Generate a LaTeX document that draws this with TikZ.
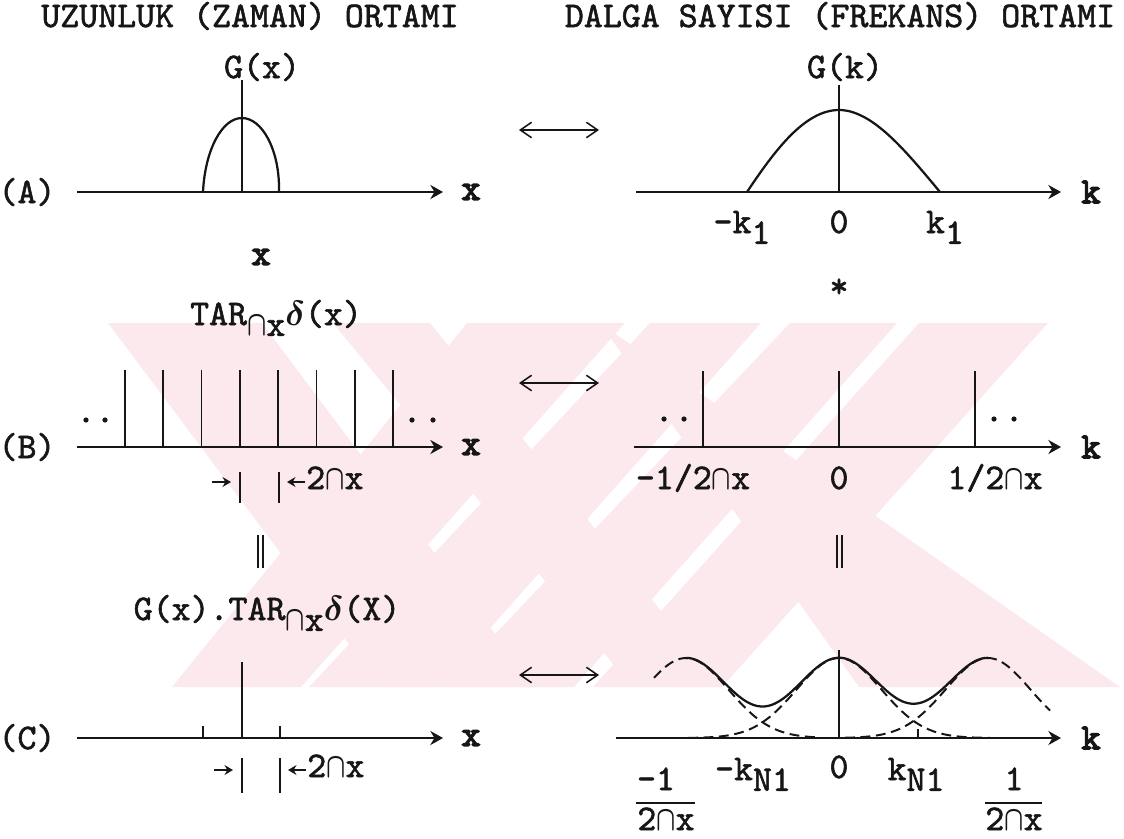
\documentclass[tikz,border=0pt]{standalone}
\usepackage{amsmath}
\usepackage{graphicx}
\usepackage{fontspec}
\newfontfamily\tw{lmmono10-regular.otf}[FakeBold=1.6]
\newfontfamily\twx{lmmono10-regular.otf}[FakeBold=4]
\usetikzlibrary{arrows.meta,positioning}
\definecolor{tezpink}{RGB}{252,233,237}
\definecolor{tezink}{RGB}{22,22,22}
\newcommand{\dn}[1]{\raisebox{-0.3em}{#1}}
\newcommand{\cp}{\scalebox{0.72}[1]{$\boldsymbol{\cap}$}}
\newcommand{\dl}{\ensuremath{\boldsymbol{\delta}}}

\begin{document}
\begin{tikzpicture}[
    x=0.025cm, y=-0.025cm,
    font=\tw\bfseries\fontsize{25.7}{30}\selectfont,
    lbl/.style={inner sep=0pt, text=tezink},
    axlbl/.style={lbl, font=\twx\bfseries\fontsize{25.7}{30}\selectfont},
    axis/.style={line width=1.8pt, draw=tezink, -{Stealth[length=9pt,width=10pt]}},
    tooth/.style={line width=1.2pt, draw=tezink},
    curve/.style={line width=1.6pt, draw=tezink},
    dcurve/.style={line width=1.4pt, draw=tezink, dash pattern=on 7pt off 4pt},
    pair/.style={line width=1.1pt, draw=tezink, {Straight Barb[length=8pt,width=11pt]}-{Straight Barb[length=8pt,width=11pt]}},
    mini/.style={line width=1.5pt, draw=tezink, -{Stealth[length=6pt,width=7pt]}},
    wm/.style={fill=tezpink, draw=none}
  ]
    \useasboundingbox (0,0) rectangle (1124,838);

    \fill[wm] (108,323) -- (262,323) -- (535,687) -- (381,687) -- cycle;
    \fill[wm] (333,323) -- (430,323) -- (722,687) -- (632,687) -- cycle;
    \fill[wm] (467,323) -- (625,323) -- (301,687) -- (172,687) -- cycle;
    \fill[wm] (650,323) -- (761,323) -- (438,687) -- (309,687) -- cycle;
    \fill[wm] (790,323) -- (897,323) -- (574,687) -- (445,687) -- cycle;
    \fill[wm] (919,323) -- (1048,323) -- (722,687) -- (593,687) -- cycle;
    \fill[wm] (600,323) -- (1120,687) -- (859,687) -- cycle;

    \node[lbl, anchor=base] (ttlL) at (250,27) {UZUNLUK (ZAMAN) ORTAMI};
    \node[lbl, anchor=base] (ttlR) at (840,27) {DALGA SAYISI (FREKANS) ORTAMI};

    % (A)
    \node[lbl] (labA) at (27,192) {(A)};
    \coordinate (aLs) at (77,192);
    \coordinate (aLe) at (443,192);
    \draw[axis] (aLs) -- (aLe);
    \node[axlbl] (aLx) at (471,192) {x};
    \coordinate (gxb) at (242,192);
    \coordinate (gxt) at (242,80);
    \draw[tooth] (gxb) -- (gxt);
    \node[lbl] (gx) at (262,67) {G(x)};
    \draw[curve] (203,192) .. controls (205,150) and (222,118) .. (242,118)
                 .. controls (262,118) and (280,150) .. (279,192);

    \coordinate (pAl) at (519,130);
    \coordinate (pAr) at (599,130);
    \draw[pair] (pAl) -- (pAr);

    \coordinate (aRs) at (636,192);
    \coordinate (aRe) at (1061,192);
    \draw[axis] (aRs) -- (aRe);
    \node[axlbl] (aRk) at (1091,192) {k};
    \coordinate (gkb) at (839,192);
    \coordinate (gkt) at (839,85);
    \draw[tooth] (gkb) -- (gkt);
    \node[lbl] (gk) at (845,67) {G(k)};
    \draw[curve] (747,192) .. controls (775,150) and (805,110) .. (839,110)
                 .. controls (872,110) and (905,150) .. (940,192);
    \node[lbl, anchor=base] (mk1) at (742,233) {-k\dn{1}};
    \node[lbl, anchor=base] (zA) at (839,233) {0};
    \node[lbl, anchor=base] (pk1) at (945,233) {k\dn{1}};

    \node[axlbl] (times) at (261,257) {x};
    \node[lbl] (conv) at (839,288) {*};

    % (B)
    \node[lbl, anchor=base] (tar) at (276,325) {TAR\dn{\cp x}\dl(x)};
    \node[lbl] (labB) at (27,447) {(B)};
    \coordinate (bLs) at (77,447);
    \coordinate (bLe) at (443,447);
    \draw[axis] (bLs) -- (bLe);
    \node[axlbl] (bLx) at (471,447) {x};
    \foreach \i in {0,...,7}
      \draw[tooth] (125+38.3*\i,447) -- (125+38.3*\i,370);
    \foreach \d in {86,105,412,433}
      \fill[tezink] (\d,420) circle (2.6);
    \coordinate (sBa) at (212,482);
    \coordinate (sBb) at (231,482);
    \draw[mini] (sBa) -- (sBb);
    \draw[tooth] (240,472) -- (240,503);
    \draw[tooth] (279,472) -- (279,503);
    \coordinate (sBc) at (305,482);
    \coordinate (sBd) at (287,482);
    \draw[mini] (sBc) -- (sBd);
    \node[lbl, anchor=base west] (dBx) at (306,489) {2\cp x};

    \coordinate (pBl) at (519,383);
    \coordinate (pBr) at (599,383);
    \draw[pair] (pBl) -- (pBr);

    \coordinate (bRs) at (634,447);
    \coordinate (bRe) at (1061,447);
    \draw[axis] (bRs) -- (bRe);
    \node[axlbl] (bRk) at (1091,447) {k};
    \foreach \t in {703,839,975}
      \draw[tooth] (\t,447) -- (\t,371);
    \foreach \d in {664,684,994,1014}
      \fill[tezink] (\d,419) circle (2.6);
    \node[lbl, anchor=base] (mh) at (693,489) {-1/2\cp x};
    \node[lbl, anchor=base] (zB) at (839,489) {0};
    \node[lbl, anchor=base] (ph) at (995,489) {1/2\cp x};

    \draw[tooth] (258,535) -- (258,568);
    \draw[tooth] (263,535) -- (263,568);
    \draw[tooth] (837,535) -- (837,568);
    \draw[tooth] (842,535) -- (842,568);

    % (C)
    \node[lbl, anchor=base] (prod) at (267,620) {G(x).TAR\dn{\cp x}\dl(X)};
    \node[lbl] (labC) at (27,738) {(C)};
    \coordinate (cLs) at (77,738);
    \coordinate (cLe) at (443,738);
    \draw[axis] (cLs) -- (cLe);
    \node[axlbl] (cLx) at (471,738) {x};
    \draw[tooth] (242,738) -- (242,662);
    \draw[tooth] (203,738) -- (203,726);
    \draw[tooth] (280,738) -- (280,726);
    \coordinate (sCa) at (214,770);
    \coordinate (sCb) at (233,770);
    \draw[mini] (sCa) -- (sCb);
    \draw[tooth] (242,758) -- (242,793);
    \draw[tooth] (280,758) -- (280,793);
    \coordinate (sCc) at (306,770);
    \coordinate (sCd) at (288,770);
    \draw[mini] (sCc) -- (sCd);
    \node[lbl, anchor=base west] (dCx) at (307,777) {2\cp x};

    \coordinate (pCl) at (519,675);
    \coordinate (pCr) at (599,675);
    \draw[pair] (pCl) -- (pCr);

    \coordinate (cRs) at (616,738);
    \coordinate (cRe) at (1061,738);
    \draw[axis] (cRs) -- (cRe);
    \node[axlbl] (cRk) at (1091,738) {k};
    \draw[tooth] (839,738) -- (839,650);
    \draw[tooth] (918,738) -- (918,729);
    \draw[dcurve] plot[domain=654:820, samples=50, smooth] (\x,{738-80*exp(-((\x-686)/60)^2)});
    \draw[dcurve] plot[domain=688:990, samples=70, smooth] (\x,{738-80*exp(-((\x-839)/60)^2)});
    \draw[dcurve] plot[domain=845:1050, samples=50, smooth] (\x,{738-80*exp(-((\x-988)/60)^2)});
    \draw[curve] plot[domain=686:988, samples=100, smooth]
      (\x,{738-80*exp(-((\x-686)/60)^2)-80*exp(-((\x-839)/60)^2)-80*exp(-((\x-988)/60)^2)});
    \node[lbl, anchor=base] (mkn) at (753,780) {-k\dn{N1}};
    \node[lbl, anchor=base] (zC) at (839,778) {0};
    \node[lbl, anchor=base] (pkn) at (916,780) {k\dn{N1}};
    \node[lbl, anchor=base] (fLn) at (656,790) {-1};
    \draw[tooth] (636,803) -- (695,803);
    \node[lbl, anchor=base] (fLd) at (666,830) {2\cp x};
    \node[lbl, anchor=base] (fRn) at (1014,790) {1};
    \draw[tooth] (985,803) -- (1042,803);
    \node[lbl, anchor=base] (fRd) at (1014,830) {2\cp x};
\end{tikzpicture}
\end{document}
